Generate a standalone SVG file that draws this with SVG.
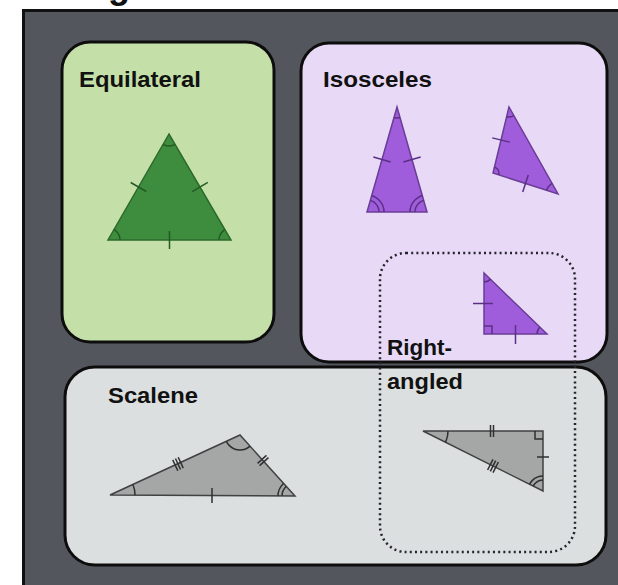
<svg xmlns="http://www.w3.org/2000/svg" width="618" height="585" viewBox="0 0 618 585">
<style>
.lbl{font-family:"Liberation Sans",Arial,sans-serif;font-weight:bold;font-size:22px;fill:#111}
.box{stroke:#0d0d0d;stroke-width:3}
.g{fill:#3e8c3e;stroke:#2c6a2c;stroke-width:1.5}
.gm{fill:none;stroke:#235a23;stroke-width:1.5}
.p{fill:#a05ddb;stroke:#6a3d96;stroke-width:1.5}
.pm{fill:none;stroke:#5a2f85;stroke-width:1.5}
.s{fill:#a5a7a7;stroke:#3f4142;stroke-width:1.5}
.sm{fill:none;stroke:#2e3031;stroke-width:1.5}
</style>
<defs>
<clipPath id="cEq"><polygon points="169,134 108,240 231,240"/></clipPath>
<clipPath id="cI1"><polygon points="397,107 367,212 427,212"/></clipPath>
<clipPath id="cI2"><polygon points="509,107 493,173 558,194"/></clipPath>
<clipPath id="cI3"><polygon points="484,273 484,334 547,334"/></clipPath>
<clipPath id="cSc"><polygon points="110,495 240,435 295,496"/></clipPath>
<clipPath id="cRa"><polygon points="423,431 543,431 543,491"/></clipPath>
</defs>
<rect x="0" y="0" width="618" height="585" fill="#ffffff"/>
<text x="22" y="-2.5" font-family="Liberation Sans, Arial, sans-serif" font-weight="bold" font-size="36" fill="#111">Triangles</text>
<rect id="frame" x="23.5" y="10.5" width="600" height="580" fill="#54565d" stroke="#111" stroke-width="3"/>

<g id="equilateral">
<rect class="box" x="62" y="42" width="212" height="300" rx="28" fill="#c4e0a8"/>
<text class="lbl" x="79" y="87" textLength="122" lengthAdjust="spacingAndGlyphs">Equilateral</text>
<polygon class="g" points="169,134 108,240 231,240"/>
<g clip-path="url(#cEq)" class="gm">
<circle cx="169" cy="134" r="12"/><circle cx="108" cy="240" r="12"/><circle cx="231" cy="240" r="12"/>
</g>
<g class="gm">
<line transform="translate(138.5,187) rotate(-60.1)" x1="0" y1="-9" x2="0" y2="9"/>
<line transform="translate(200,187) rotate(59.7)" x1="0" y1="-9" x2="0" y2="9"/>
<line transform="translate(169.5,240)" x1="0" y1="-9" x2="0" y2="9"/>
</g>
</g>

<g id="isosceles">
<rect class="box" x="301" y="43" width="306" height="319" rx="28" fill="#e8daf6"/>
<text class="lbl" x="323" y="87" textLength="109" lengthAdjust="spacingAndGlyphs">Isosceles</text>
<polygon class="p" points="397,107 367,212 427,212"/>
<g clip-path="url(#cI1)" class="pm">
<circle cx="397" cy="107" r="11"/>
<circle cx="367" cy="212" r="12"/><circle cx="367" cy="212" r="17"/>
<circle cx="427" cy="212" r="12"/><circle cx="427" cy="212" r="17"/>
</g>
<g class="pm">
<line transform="translate(382,159.5) rotate(-74.05)" x1="0" y1="-9" x2="0" y2="9"/>
<line transform="translate(412,159.5) rotate(74.05)" x1="0" y1="-9" x2="0" y2="9"/>
</g>
<polygon class="p" points="509,107 493,173 558,194"/>
<g clip-path="url(#cI2)" class="pm">
<circle cx="509" cy="107" r="10"/><circle cx="558" cy="194" r="12"/><circle cx="493" cy="173" r="6"/>
</g>
<g class="pm">
<line transform="translate(501,140) rotate(-76.4)" x1="0" y1="-9" x2="0" y2="9"/>
<line transform="translate(525.5,183.5) rotate(17.9)" x1="0" y1="-9" x2="0" y2="9"/>
</g>
<polygon class="p" points="484,273 484,334 547,334"/>
<g clip-path="url(#cI3)" class="pm">
<circle cx="484" cy="273" r="9"/><circle cx="547" cy="334" r="10"/>
</g>
<g class="pm">
<path d="M484,326 h8 v8"/>
<line x1="473" y1="303.5" x2="493" y2="303.5"/>
<line x1="515.5" y1="325" x2="515.5" y2="344"/>
</g>
</g>

<g id="scalene">
<rect class="box" x="65" y="367" width="541" height="198" rx="30" fill="#dcdfe0"/>
<text class="lbl" x="108" y="403" textLength="90" lengthAdjust="spacingAndGlyphs">Scalene</text>
<polygon class="s" points="110,495 240,435 295,496"/>
<g clip-path="url(#cSc)" class="sm">
<circle cx="110" cy="495" r="25"/><circle cx="240" cy="435" r="15"/>
<circle cx="295" cy="496" r="13"/><circle cx="295" cy="496" r="17"/>
</g>
<g class="sm">
<g transform="translate(178,464) rotate(-24.8)">
<line x1="-3" y1="-6" x2="-3" y2="6"/><line x1="0" y1="-6" x2="0" y2="6"/><line x1="3" y1="-6" x2="3" y2="6"/>
</g>
<g transform="translate(263,460.5) rotate(47.96)">
<line x1="-1.5" y1="-6" x2="-1.5" y2="6"/><line x1="1.5" y1="-6" x2="1.5" y2="6"/>
</g>
<line x1="212" y1="488" x2="212" y2="503"/>
</g>
<polygon class="s" points="423,431 543,431 543,491"/>
<g clip-path="url(#cRa)" class="sm">
<circle cx="423" cy="431" r="25"/>
<circle cx="543" cy="491" r="11"/><circle cx="543" cy="491" r="15"/>
</g>
<g class="sm">
<path d="M535,431 v8 h8"/>
<line x1="490.5" y1="425" x2="490.5" y2="437"/><line x1="493.5" y1="425" x2="493.5" y2="437"/>
<line x1="537" y1="457" x2="549" y2="457"/>
<g transform="translate(493,466) rotate(26.57)">
<line x1="-3" y1="-6" x2="-3" y2="6"/><line x1="0" y1="-6" x2="0" y2="6"/><line x1="3" y1="-6" x2="3" y2="6"/>
</g>
</g>
</g>

<g id="right-angled">
<rect x="380" y="253" width="195" height="299" rx="26" fill="none" stroke="#24242c" stroke-width="2.5" stroke-dasharray="2 3.2"/>
<text class="lbl" x="387" y="355" textLength="65" lengthAdjust="spacingAndGlyphs">Right-</text>
<text class="lbl" x="387" y="389" textLength="76" lengthAdjust="spacingAndGlyphs">angled</text>
</g>
</svg>
